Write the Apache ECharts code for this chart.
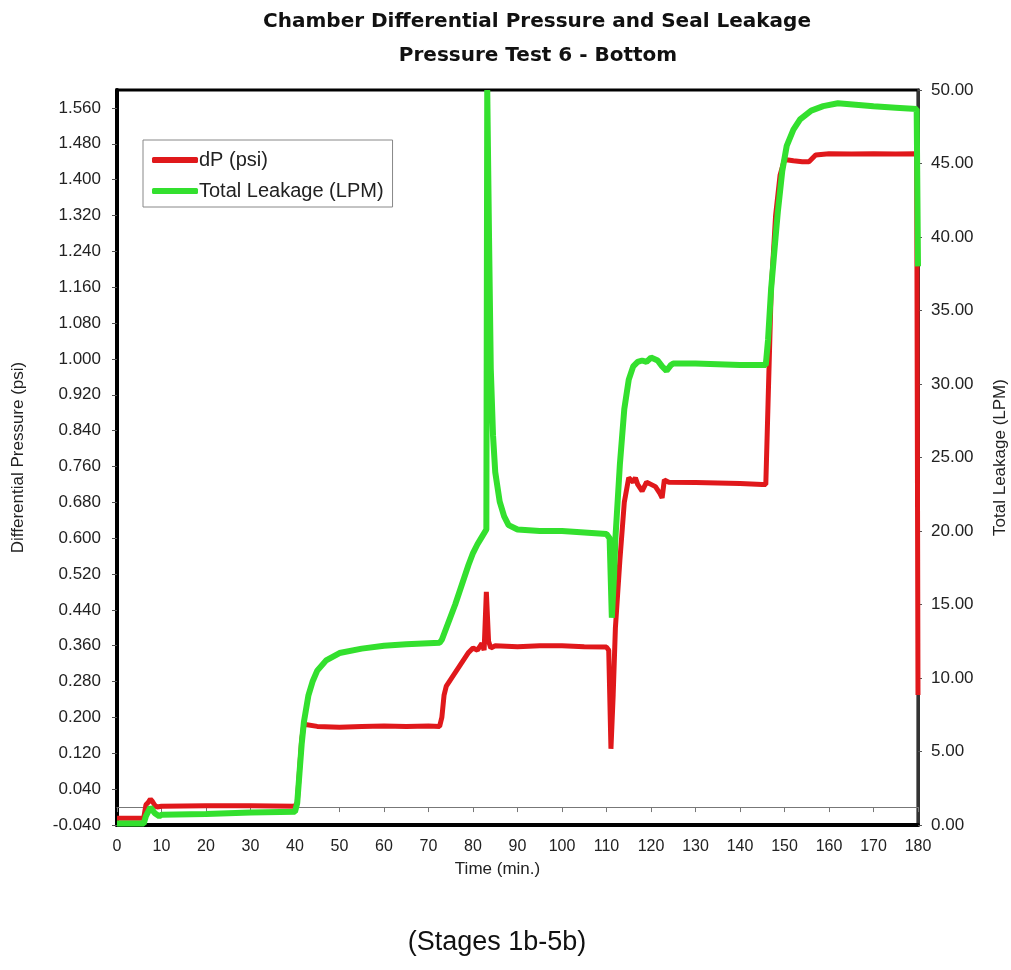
<!DOCTYPE html>
<html>
<head>
<meta charset="utf-8">
<script src="https://cdn.jsdelivr.net/npm/echarts@6/dist/echarts.min.js"></script>
<style>
  html, body { margin: 0; padding: 0; background: #fff; }
  #main { width: 1011px; height: 970px; }
</style>
</head>
<body>
<div id="main"></div>
<script>
// dP (psi), left axis
var dpTime  = [0, 6, 6.5, 7, 7.5, 8, 8.5, 9, 10, 20, 30, 40, 40.5, 41, 41.5, 42, 45, 50, 55, 60, 65, 70, 72.5, 73, 73.5, 74, 75, 76, 77, 78, 79, 80, 81, 82, 82.5, 83, 83.5, 84, 85, 90, 95, 100, 105, 110, 110.5, 111, 111.5, 112, 113, 114, 115, 116, 116.5, 117, 118, 119, 120, 121, 122, 122.5, 123, 124, 130, 135, 140, 145, 145.8, 146.3, 147, 148, 149, 150, 152, 154, 155.5, 157, 160, 165, 170, 175, 179.7, 180];
var dpValue = [-0.025, -0.025, 0.005, 0.01, 0.018, 0.012, 0.004, 0.0, 0.002, 0.003, 0.003, 0.002, 0.01, 0.08, 0.15, 0.185, 0.18, 0.178, 0.18, 0.181, 0.18, 0.181, 0.18, 0.2, 0.25, 0.27, 0.285, 0.3, 0.315, 0.33, 0.345, 0.355, 0.35, 0.365, 0.35, 0.48, 0.37, 0.355, 0.36, 0.358, 0.36, 0.36, 0.358, 0.357, 0.35, 0.13, 0.25, 0.4, 0.55, 0.68, 0.735, 0.725, 0.735, 0.72, 0.705, 0.725, 0.72, 0.715, 0.7, 0.69, 0.73, 0.725, 0.724, 0.723, 0.722, 0.72, 0.72, 0.9, 1.15, 1.32, 1.41, 1.445, 1.442, 1.44, 1.44, 1.455, 1.458, 1.457, 1.458, 1.457, 1.458, 0.25];

// Total Leakage (LPM), right axis
var leakTime  = [0, 6, 6.5, 7.5, 8.5, 9.5, 10, 20, 30, 40, 40.5, 41, 41.5, 42, 43, 44, 45, 47, 50, 55, 60, 65, 72.5, 73, 74, 75, 76, 77, 78, 79, 80, 81, 82, 83, 83.2, 83.6, 84, 84.5, 85, 86, 87, 88, 90, 95, 100, 105, 110, 110.7, 111.2, 111.7, 112, 113, 114, 115, 116, 117, 118, 119, 120, 121.5, 122.5, 123.5, 124.5, 125, 130, 135, 140, 145.8, 146.3, 147, 148, 148.5, 149.5, 150.5, 152, 153.5, 156, 158.7, 162, 166, 170, 175, 179.7, 180];
var leakValue = [0.1, 0.1, 0.6, 1.2, 0.8, 0.6, 0.7, 0.75, 0.85, 0.9, 1.5, 3.5, 5.5, 7, 8.8, 9.8, 10.5, 11.2, 11.7, 12.0, 12.2, 12.3, 12.4, 12.6, 13.4, 14.2, 15.0, 15.9, 16.8, 17.7, 18.5, 19.1, 19.6, 20.1, 50, 40, 31, 26.5, 24, 22, 21, 20.4, 20.1, 20.0, 20.0, 19.9, 19.8, 19.5, 14.1, 17, 19.5, 24.5, 28.3, 30.3, 31.2, 31.5, 31.6, 31.5, 31.8, 31.6, 31.2, 30.9, 31.3, 31.4, 31.4, 31.35, 31.3, 31.3, 33, 36.5, 40, 41.7, 44.5, 46.2, 47.3, 48.0, 48.6, 48.9, 49.1, 49.0, 48.9, 48.8, 48.7, 38];

var xTicks = [0, 180, 10];        // min, max, step
var dpTicks = [-0.04, 1.6, 0.08];
var leakTicks = [0, 50, 5];

function pairs(t, v) {
  var out = [];
  for (var i = 0; i < t.length; i++) out.push([t[i], v[i]]);
  return out;
}

var font = 'Liberation Sans';
var myChart = echarts.init(document.getElementById('main'));

var option = {
  backgroundColor: '#fff',
  animation: false,
  textStyle: { fontFamily: font },
  graphic: [
    { type: 'text', x: 537, y: 22, style: { text: 'Chamber Differential Pressure and Seal Leakage', font: 'bold 20px "DejaVu Sans"', fill: '#111', textAlign: 'center', textVerticalAlign: 'middle' } },
    { type: 'text', x: 538, y: 56, style: { text: 'Pressure Test 6 - Bottom', font: 'bold 20px "DejaVu Sans"', fill: '#111', textAlign: 'center', textVerticalAlign: 'middle' } },
    { type: 'text', x: 497, y: 943, style: { text: '(Stages 1b-5b)', font: '27px "Liberation Sans"', fill: '#111', textAlign: 'center', textVerticalAlign: 'middle' } }
  ],
  legend: {
    orient: 'vertical',
    left: 143, top: 140,
    padding: [10, 9, 6, 9],
    itemGap: 11,
    itemWidth: 46, itemHeight: 6,
    icon: 'roundRect',
    borderColor: '#888', borderWidth: 1,
    textStyle: { fontSize: 20, color: '#222', fontFamily: font, padding: [0, 0, 0, -4] },
    data: ['dP (psi)', 'Total Leakage (LPM)']
  },
  grid: { left: 117, right: 93, top: 90, bottom: 145, outerBoundsMode: 'none', show: true, borderColor: '#000', borderWidth: 3 },
  xAxis: [
    {
      type: 'value', min: xTicks[0], max: xTicks[1], interval: xTicks[2],
      name: 'Time (min.)', nameLocation: 'middle', nameGap: 36,
      nameTextStyle: { fontSize: 17, color: '#222', padding: [0, 40, 0, 0] },
      axisLine: { onZero: false, lineStyle: { color: '#000', width: 4 } },
      axisTick: { show: false },
      axisLabel: { fontSize: 16, color: '#222', margin: 14 },
      splitLine: { show: false }
    },
    {
      type: 'value', min: xTicks[0], max: xTicks[1], interval: xTicks[2], position: 'bottom',
      axisLine: { onZero: true, onZeroAxisIndex: 0, lineStyle: { color: '#777', width: 1 } },
      axisTick: { show: true, length: 5, lineStyle: { color: '#777' } },
      axisLabel: { show: false },
      splitLine: { show: false }
    }
  ],
  yAxis: [
    {
      type: 'value', min: dpTicks[0], max: dpTicks[1], interval: dpTicks[2],
      name: 'Differential Pressure (psi)', nameLocation: 'middle', nameGap: 90, nameRotate: 90,
      nameTextStyle: { fontSize: 17, color: '#222' },
      axisLine: { show: true, onZero: false, lineStyle: { color: '#000', width: 4 } },
      axisTick: { show: true, length: 5, lineStyle: { color: '#555' } },
      axisLabel: { fontSize: 17, color: '#222', margin: 16, showMaxLabel: false, formatter: function (v) { return v.toFixed(3); } },
      splitLine: { show: false }
    },
    {
      type: 'value', min: leakTicks[0], max: leakTicks[1], interval: leakTicks[2], position: 'right',
      name: 'Total Leakage (LPM)', nameLocation: 'middle', nameGap: 74, nameRotate: 90,
      nameTextStyle: { fontSize: 17, color: '#222' },
      axisLine: { show: true, onZero: false, lineStyle: { color: '#333', width: 3 } },
      axisTick: { show: true, length: 4, lineStyle: { color: '#555' } },
      axisLabel: { fontSize: 17, color: '#222', margin: 13, formatter: function (v) { return v.toFixed(2); } },
      splitLine: { show: false }
    }
  ],
  series: [
    {
      name: 'dP (psi)', type: 'line', xAxisIndex: 0, yAxisIndex: 0,
      data: pairs(dpTime, dpValue),
      showSymbol: false, symbol: 'none',
      lineStyle: { color: '#e0181b', width: 5 },
      itemStyle: { color: '#e0181b' }
    },
    {
      name: 'Total Leakage (LPM)', type: 'line', xAxisIndex: 0, yAxisIndex: 1,
      data: pairs(leakTime, leakValue),
      showSymbol: false, symbol: 'none',
      lineStyle: { color: '#33e02e', width: 6 },
      itemStyle: { color: '#33e02e' }
    }
  ]
};

myChart.setOption(option);
</script>
</body>
</html>
